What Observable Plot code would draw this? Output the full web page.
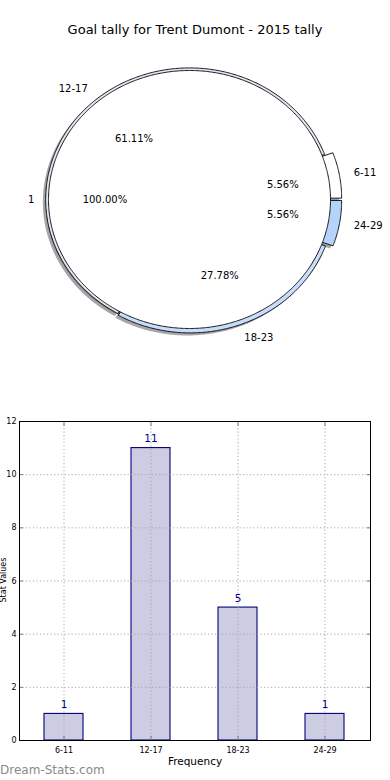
<!DOCTYPE html>
<html><head><meta charset="utf-8">
<script src="https://cdn.jsdelivr.net/npm/d3@7"></script>
<script src="https://cdn.jsdelivr.net/npm/@observablehq/plot@0.6"></script>
<style>
body{margin:0;background:#fff;font-family:"DejaVu Sans",sans-serif;}
#wrap{position:relative;width:390px;height:780px;overflow:hidden;background:#fff;}
#pie{position:absolute;left:0;top:0;}
#bars{position:absolute;left:0;top:400px;}
#title{position:absolute;left:0;width:390px;top:22px;text-align:center;font-size:13px;color:#000;line-height:16px;}
#ylab{position:absolute;left:-32px;top:575px;width:72px;text-align:center;font-size:8px;line-height:10px;transform:rotate(-90deg);color:#000;white-space:nowrap;}
#wm{position:absolute;left:0;top:763px;font-size:12px;color:#8a8a8a;line-height:15px;}
</style></head><body>
<div id="wrap">
 <div id="pie"></div>
 <div id="bars"></div>
 <div id="title"></div>
 <div id="ylab"></div>
 <div id="wm"></div>
</div>
<script>
// ---- data ----
const title = "Goal tally for Trent Dumont - 2015 tally";
const categories = ["6-11", "12-17", "18-23", "24-29"];
const values = [1, 11, 5, 1];
const innerLabels = ["1"];
const innerValues = [1];
const yTicks = [0, 2, 4, 6, 8, 10, 12];
const xLabel = "Frequency";
const yLabel = "Stat Values";
const watermark = "Dream-Stats.com";

// ---- styles ----
const ringColors = ["#ffffff", "#e0e7f4", "#c8dcfb", "#b6d3fc"];
const ringExplode = [0.06, 0, 0.015, 0.06];
const ringRadius = 1.02;
const innerRadius = 1;
const shadowOff = 0.02;

document.getElementById("title").textContent = title;
document.getElementById("ylab").textContent = yLabel;
document.getElementById("wm").textContent = watermark;

// ---- pie geometry from values ----
function wedges(vals, radius, explode) {
  const total = d3.sum(vals);
  let acc = 0;
  return vals.map((v, i) => {
    const a0 = acc / total * 360;
    acc += v;
    const a1 = acc / total * 360;
    const mid = (a0 + a1) / 2 * Math.PI / 180;
    const e = explode ? explode[i] : 0;
    const cx = e * Math.cos(mid), cy = e * Math.sin(mid);
    const full = Math.abs(a1 - a0 - 360) < 1e-9;
    const pts = full ? [] : [[cx, cy]];
    const n = Math.max(2, Math.ceil((a1 - a0) / 0.5));
    for (let k = 0; k <= n; k++) {
      const a = (a0 + (a1 - a0) * k / n) * Math.PI / 180;
      pts.push([cx + radius * Math.cos(a), cy + radius * Math.sin(a)]);
    }
    return {i, v, frac: v / total, a0, a1, mid, cx, cy, pts, radius};
  });
}
const ring = wedges(values, ringRadius, ringExplode);
const inner = wedges(innerValues, innerRadius, null);

function poly(w, opts, dx = 0, dy = 0) {
  return Plot.line(w.pts.map(p => [p[0] + dx, p[1] + dy]),
    {x: d => d[0], y: d => d[1], curve: "linear-closed", ...opts});
}
const shadowStyle = {fill: "#4d4d4d", fillOpacity: 0.5, stroke: "none"};
const edgeStyle = {stroke: "#000", strokeWidth: 0.9};

const labelData = [];
ring.forEach((w, i) => {
  const c = Math.cos(w.mid), s = Math.sin(w.mid);
  labelData.push({x: w.cx + 1.1 * w.radius * c, y: w.cy + 1.1 * w.radius * s,
    t: categories[i], anchor: c >= 0 ? "start" : "end"});
  labelData.push({x: w.cx + 0.6 * w.radius * c, y: w.cy + 0.6 * w.radius * s,
    t: (w.frac * 100).toFixed(2) + "%", anchor: "middle"});
});
inner.forEach((w, i) => {
  const c = Math.cos(w.mid), s = Math.sin(w.mid);
  labelData.push({x: w.cx + 1.1 * w.radius * c, y: w.cy + 1.1 * w.radius * s,
    t: innerLabels[i], anchor: c >= 0 ? "start" : "end"});
  labelData.push({x: w.cx + 0.6 * w.radius * c, y: w.cy + 0.6 * w.radius * s,
    t: (w.frac * 100).toFixed(2) + "%", anchor: "middle"});
});

const pieMarks = [
  ...ring.map(w => poly(w, shadowStyle, -shadowOff, -shadowOff)),
  ...inner.map(w => poly(w, shadowStyle, -shadowOff, -shadowOff)),
  ...ring.map((w, i) => poly(w, {fill: ringColors[i], ...edgeStyle})),
  ...inner.map(w => poly(w, {fill: "#ffffff", ...edgeStyle})),
  ...["start", "end", "middle"].map(a =>
    Plot.text(labelData.filter(d => d.anchor === a),
      {x: "x", y: "y", text: "t", textAnchor: a, fontSize: 10, fill: "#000"}))
];

const pie = Plot.plot({
  width: 390, height: 400, margin: 0,
  style: {fontFamily: "DejaVu Sans", background: "transparent", overflow: "visible"},
  x: {domain: [-189 / 141, 201 / 141], range: [0, 390], axis: null},
  y: {domain: [-201 / 129, 199 / 129], range: [400, 0], axis: null},
  marks: pieMarks
});
document.getElementById("pie").append(pie);

// ---- bar chart ----
const barData = categories.map((c, i) => ({cat: c, val: values[i]}));
const gridStyle = {stroke: "#a8a8a8", strokeOpacity: 1, strokeWidth: 1, strokeDasharray: "1.2,2.3"};
const bars = Plot.plot({
  width: 390, height: 380, marginTop: 21, marginBottom: 40, marginLeft: 19, marginRight: 20,
  style: {fontFamily: "DejaVu Sans", background: "transparent", overflow: "visible"},
  x: {domain: categories, paddingInner: 0.55, paddingOuter: 0.275, label: null},
  y: {domain: [0, 12], label: null},
  marks: [
    Plot.barY(barData, {x: "cat", y: "val", fill: "#ccccE2", stroke: "#00007a", strokeWidth: 1.1}),
    Plot.gridY(yTicks, gridStyle),
    Plot.gridX(categories, gridStyle),
    Plot.axisY(yTicks, {anchor: "left", tickSize: 0, tickPadding: 3, fontSize: 8, label: null}),
    Plot.axisY(yTicks, {anchor: "left", tickSize: -4, text: null, stroke: "#777", label: null}),
    Plot.axisY(yTicks, {anchor: "right", tickSize: -4, text: null, stroke: "#777", label: null}),
    Plot.axisX({anchor: "bottom", tickSize: 0, tickPadding: 7, fontSize: 8, label: null}),
    Plot.axisX({anchor: "bottom", tickSize: -4, text: null, stroke: "#777", label: null}),
    Plot.axisX({anchor: "top", tickSize: -4, text: null, stroke: "#777", label: null}),
    Plot.frame({stroke: "#000", strokeWidth: 1}),
    Plot.text(barData, {x: "cat", y: "val", text: d => String(d.val), dy: -9, fill: "#00008b", fontSize: 10.5}),
    Plot.text([xLabel], {frameAnchor: "bottom", dy: 24, fontSize: 10.5, fill: "#000"})
  ]
});
document.getElementById("bars").append(bars);
</script>
</body></html>
